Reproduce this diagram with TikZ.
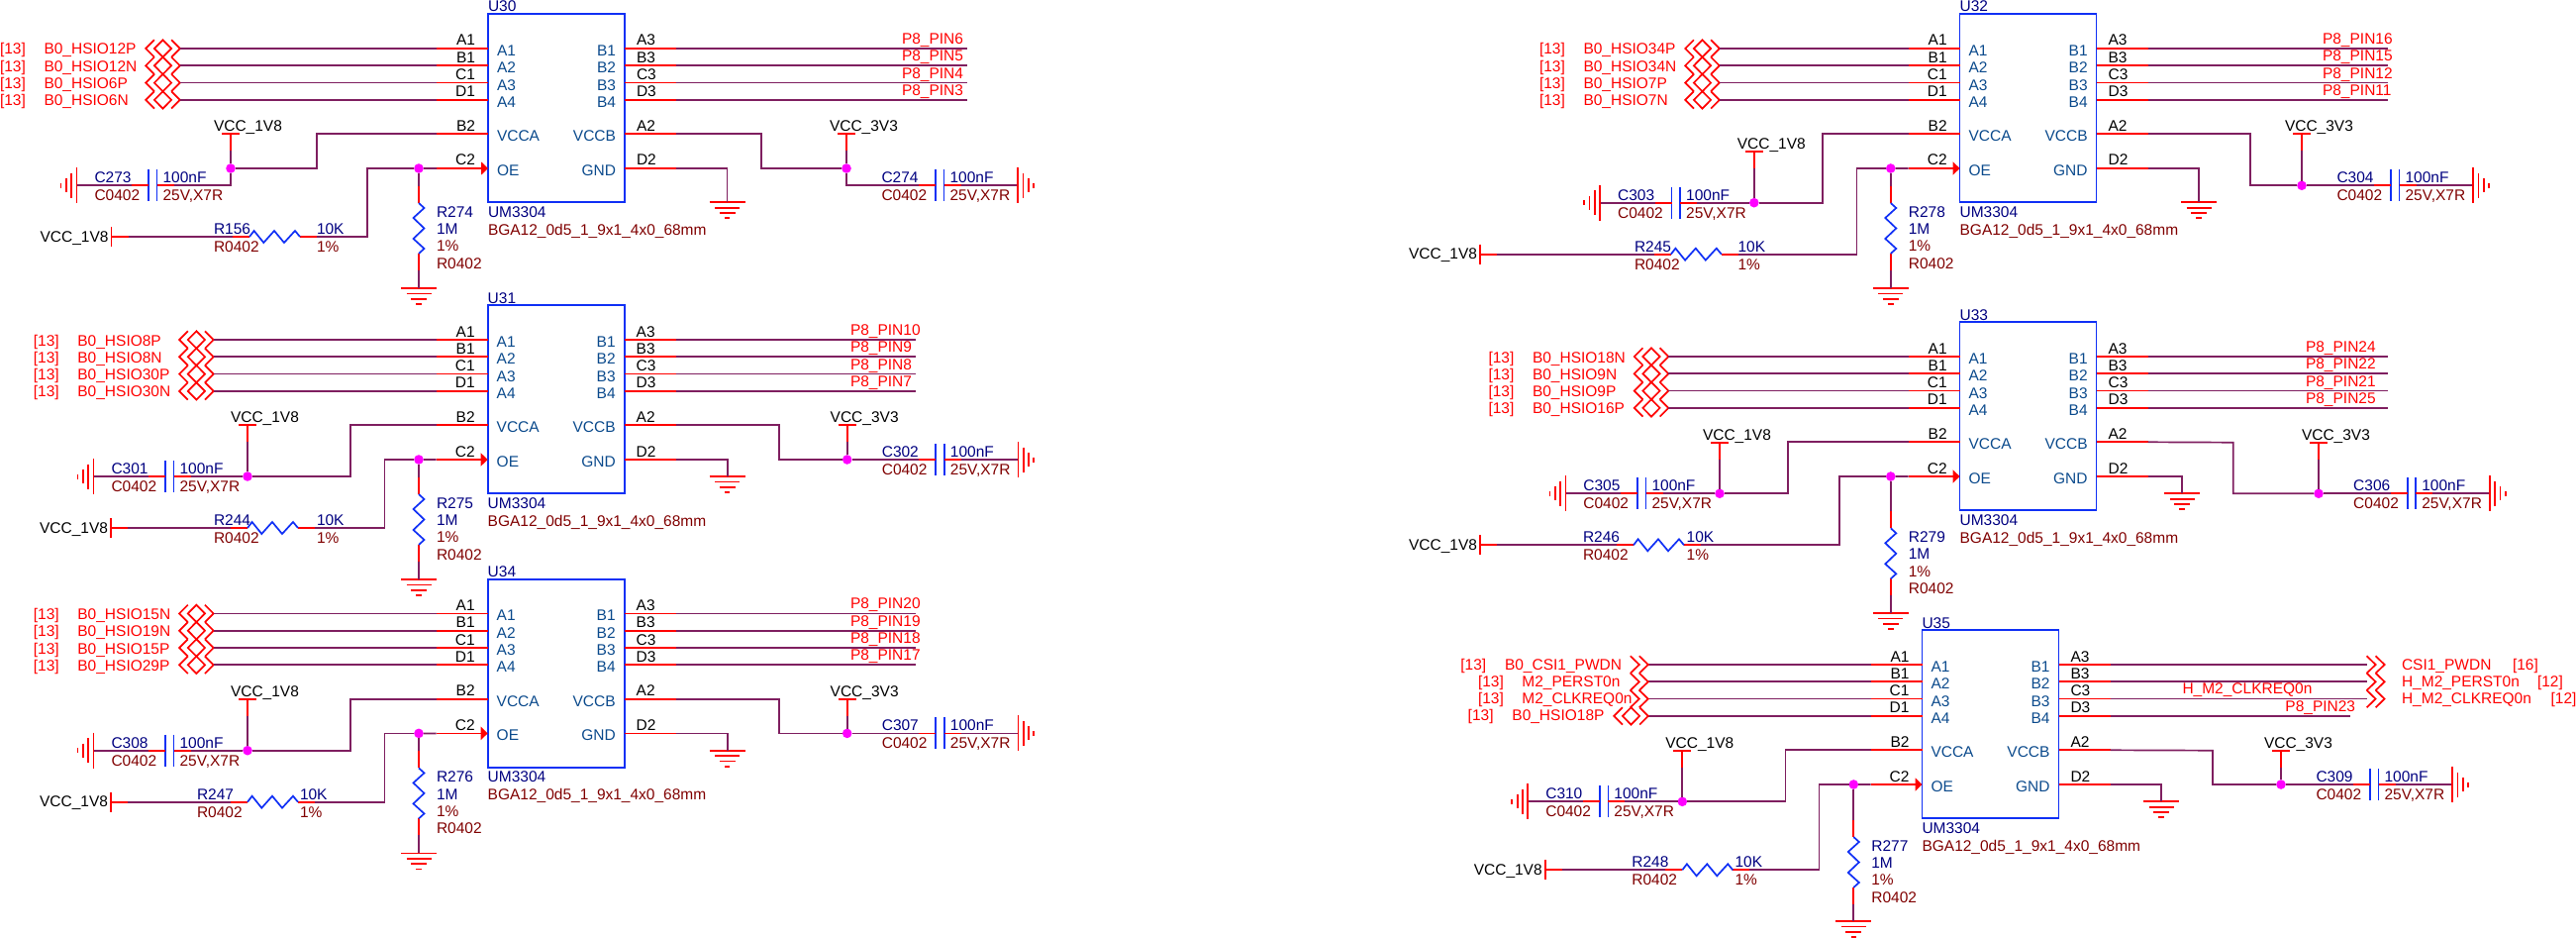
\documentclass[tikz,border=0pt]{standalone}
\usepackage{fontspec}
\setmainfont{Liberation Sans}
\usetikzlibrary{arrows.meta}

\definecolor{netc}{HTML}{7F1F60}
\definecolor{refc}{HTML}{000080}
\definecolor{valc}{HTML}{800000}
\definecolor{pinc}{HTML}{0B4A8C}
\definecolor{boxc}{HTML}{1030F5}
\definecolor{juncc}{HTML}{FF00FF}
\definecolor{pinred}{HTML}{FF0000}

\tikzset{
  net line/.style={draw=netc,line width=.85pt},
  pin line/.style={draw=pinred,line width=.85pt},
  blue line/.style={draw=boxc,line width=.85pt},
  chip box/.style={blue line,minimum width=69pt,minimum height=95pt},
  junction/.style={circle,fill=juncc,minimum size=4.8pt},
  ref text/.style={text=refc,anchor=base west},
  val text/.style={text=valc,anchor=base west},
  red text/.style={text=pinred,anchor=base west},
  pad text/.style={text=black},
  name text/.style={text=pinc},
  into/.pic={
    \draw[pin line] (-18,-8.7) -- (-9,0) -- (-18,8.7) (-9,-8.7) -- (0,0) -- (-9,8.7);
  },
  bidir/.pic={
    \draw[pin line] (-8.6,-8.7) -- (-17.3,0) -- (-8.6,8.7) (8.6,-8.7) -- (17.3,0) -- (8.6,8.7);
    \draw[pin line] (0,-8.7) -- (8.6,0) -- (0,8.7) -- (-8.6,0) -- cycle;
  }
}

% chip box with its pin stubs
\newcommand{\chip}[3]{
  \begin{scope}[shift={(#2,#3)}]
    \node[chip box] (#1) at (69,95) {};
    \node[ref text] (#1ref) at (0,-2.3) {#1};
    \node[ref text] (#1part) at (0,205) {UM3304};
    \node[val text] (#1foot) at (0,222.7) {BGA12\_0d5\_1\_9x1\_4x0\_68mm};
    \foreach \pn/\pd/\py in {A1/A1/34.7,A2/B1/52,A3/C1/69.3,A4/D1/86.6,VCCA/B2/121,OE/C2/155.7} {
      \coordinate (#1\pn) at (0,\py);
      \coordinate (#1\pn s) at (-52,\py);
      \node[pad text,anchor=base east] (#1\pn d) at (-13,\py-3) {\pd};
      \node[name text,anchor=base west] (#1\pn n) at (9,\py+7.5) {\pn};
    }
    \foreach \pn/\pd/\py in {B1/A3/34.7,B2/B3/52,B3/C3/69.3,B4/D3/86.6,VCCB/A2/121,GND/D2/155.7} {
      \coordinate (#1\pn) at (138,\py);
      \coordinate (#1\pn s) at (190,\py);
      \draw[pin line] (#1\pn) -- (#1\pn s);
      \node[pad text,anchor=base west] (#1\pn d) at (150,\py-3) {\pd};
      \node[name text,anchor=base east] (#1\pn n) at (129,\py+7.5) {\pn};
    }
    \foreach \pn in {A1,A2,A3,A4,VCCA}
      \draw[pin line] (#1\pn) -- (#1\pn s);
    \draw[pin line,-{Triangle[length=3.5pt,width=6.5pt]}] (#1OEs) -- (#1OE);
  \end{scope}
}
% left ports, row by row
\newcommand{\netsleft}[3]{
  \foreach \pn/\txt in {#3} {
    \pic at (#2,0 |- #1\pn) {bidir};
    \coordinate (#1\pn p) at (#2+17.3,0 |- #1\pn);
    \draw[net line] (#1\pn p) -- (#1\pn s);
    \node[red text,shift={(0,6)}] (#1\pn t) at (#2-164.5,0 |- #1\pn) {[13]};
    \node[red text,shift={(0,6)}] (#1\pn l) at (#2-120,0 |- #1\pn) {\txt};
  }
}
% right nets with label over the wire
\newcommand{\netsright}[4]{
  \foreach \pn/\txt in {#4} {
    \coordinate (#1\pn e) at (#2,0 |- #1\pn);
    \draw[net line] (#1\pn s) -- (#1\pn e);
    \node[red text,shift={(0,-4.5)}] (#1\pn l) at (#3,0 |- #1\pn) {\txt};
  }
}
% power stub going down from a bar
\newcommand{\vcc}[4]{
  \begin{scope}[shift={(#3,#4)}]
    \draw[pin line] (-9,0) -- (9,0) (0,0) -- (0,17);
    \coordinate (#1) at (0,17);
    \node[pad text,anchor=base west] (#1t) at (-17,-2.6) {#2};
  \end{scope}
}
% power stub going right from a bar
\newcommand{\vccbar}[3]{
  \begin{scope}[shift={(#2,#3)}]
    \draw[pin line] (0,-10) -- (0,10) (0,0) -- (17,0);
    \coordinate (#1) at (17,0);
    \node[pad text,anchor=base east] (#1t) at (-3,5) {VCC\_1V8};
  \end{scope}
}
\newcommand{\gnddown}[3]{
  \begin{scope}[shift={(#2,#3)}]
    \coordinate (#1) at (0,0);
    \draw[pin line] (-18,0) -- (18,0) (-12.5,5.4) -- (12.5,5.4) (-8,10.8) -- (8,10.8) (-2.7,16) -- (2.7,16);
  \end{scope}
}
% the two plates, ref and value
\newcommand{\capbody}[1]{
  \draw[blue line] (0,-16) -- (0,16) (8.6,-16) -- (8.6,16);
  \draw[pin line] (-17,0) -- (0,0) (8.6,0) -- (25.6,0);
  \coordinate (#1l) at (-17,0);
  \coordinate (#1r) at (25.6,0);
  \node[ref text] (#1n) at (-54.5,-2.6) {#1};
  \node[val text] (#1f) at (-54.5,15.4) {C0402};
  \node[ref text] (#1v) at (14.6,-2.6) {100nF};
  \node[val text] (#1w) at (14.6,15.4) {25V,X7R};
}
\newcommand{\capleft}[3]{
  \begin{scope}[shift={(#2,#3)}]
    \capbody{#1}
    \coordinate (#1g) at (-72.5,0);
    \draw[net line] (#1l) -- (#1g);
    \draw[pin line] (-72.5,-18) -- (-72.5,18) (-77.7,-12.5) -- (-77.7,12.5) (-83,-7) -- (-83,7) (-88.5,-2.5) -- (-88.5,2.5);
  \end{scope}
}
\newcommand{\capright}[3]{
  \begin{scope}[shift={(#2,#3)}]
    \capbody{#1}
    \coordinate (#1g) at (83.2,0);
    \draw[net line] (#1r) -- (#1g);
    \draw[pin line] (83.2,-18) -- (83.2,18) (88.4,-12.5) -- (88.4,12.5) (93.7,-7) -- (93.7,7) (99,-2.5) -- (99,2.5);
  \end{scope}
}
\newcommand{\reshor}[5]{
  \begin{scope}[shift={(#2,#3)}]
    \draw[pin line] (-17,0) -- (0,0) (51,0) -- (68,0);
    \draw[blue line] (0,0) -- (4.6,-6) -- (14.3,6) -- (25,-6) -- (35,6) -- (46,-6) -- (51,0);
    \coordinate (#1a) at (-17,0);
    \coordinate (#1b) at (68,0);
    \node[ref text] (#1n) at (#4-#2,-2.5) {#1};
    \node[val text] (#1f) at (#4-#2,15.3) {R0402};
    \node[ref text] (#1v) at (#5-#2,-2.5) {10K};
    \node[val text] (#1w) at (#5-#2,15.3) {1\%};
  \end{scope}
}
\newcommand{\resver}[3]{
  \begin{scope}[shift={(#2,#3)}]
    \draw[pin line] (0,-17) -- (0,0) (0,51) -- (0,68);
    \draw[blue line] (0,0) -- (5.5,5) -- (-5.5,15) -- (5.5,25.5) -- (-5.5,36) -- (5.5,46) -- (0,51);
    \coordinate (#1a) at (0,-17);
    \coordinate (#1b) at (0,68);
    \node[ref text] (#1n) at (18,14.3) {#1};
    \node[ref text] (#1v) at (18,31.6) {1M};
    \node[val text] (#1w) at (18,48.9) {1\%};
    \node[val text] (#1f) at (18,66.2) {R0402};
  \end{scope}
}
\newcommand{\junc}[3]{\node[junction] (#1) at (#2,#3) {};}

\begin{document}
\begin{tikzpicture}[x=.5pt,y=-.5pt,>=stealth,
    every node/.style={inner sep=0pt,outer sep=0pt,font=\fontsize{7.75}{9}\selectfont}]
  \useasboundingbox (0,0) rectangle (2602,947);

  % U30
  \chip{U30}{493}{14.3}
  \netsleft{U30}{164.5}{A1/B0\_HSIO12P,A2/B0\_HSIO12N,A3/B0\_HSIO6P,A4/B0\_HSIO6N}
  \netsright{U30}{977}{911}{B1/P8\_PIN6,B2/P8\_PIN5,B3/P8\_PIN4,B4/P8\_PIN3}
  \vcc{U30va}{VCC\_1V8}{233}{135.3}
  \junc{U30ja}{233}{170}
  \capleft{C273}{150}{187.3}
  \draw[net line] (U30va) -- (U30ja);
  \draw[net line] (U30ja) |- (C273r);
  \draw[net line] (U30ja) -- (320,170) |- (U30VCCAs);
  \vccbar{U30vb}{112.5}{239}
  \reshor{R156}{252}{239}{216}{320}
  \junc{U30jo}{423}{170}
  \draw[net line] (U30vb) -- (R156a);
  \draw[net line] (R156b) -- (371,239) |- (U30jo);
  \draw[net line] (U30jo) -- (U30OEs);
  \resver{R274}{423}{205}
  \gnddown{U30ga}{423}{291}
  \draw[net line] (U30jo) -- (R274a);
  \draw[net line] (R274b) -- (U30ga);
  \vcc{U30vc}{VCC\_3V3}{855}{135.3}
  \junc{U30jc}{855}{170}
  \capright{C274}{945}{187.3}
  \draw[net line] (U30VCCBs) -- (769,135.3) |- (U30jc);
  \draw[net line] (U30vc) -- (U30jc);
  \draw[net line] (U30jc) |- (C274l);
  \gnddown{U30gc}{734.6}{204.3}
  \draw[net line] (U30GNDs) -| (U30gc);

  % U31
  \chip{U31}{492.7}{308.3}
  \netsleft{U31}{198.4}{A1/B0\_HSIO8P,A2/B0\_HSIO8N,A3/B0\_HSIO30P,A4/B0\_HSIO30N}
  \netsright{U31}{925}{859}{B1/P8\_PIN10,B2/P8\_PIN9,B3/P8\_PIN8,B4/P8\_PIN7}
  \vcc{U31va}{VCC\_1V8}{250}{429.3}
  \junc{U31ja}{250}{481}
  \capleft{C301}{167}{481}
  \draw[net line] (U31va) -- (U31ja);
  \draw[net line] (C301r) -- (U31ja);
  \draw[net line] (U31ja) -- (354,481) |- (U31VCCAs);
  \vccbar{U31vb}{112}{533}
  \reshor{R244}{250}{533}{216}{320}
  \junc{U31jo}{423}{464}
  \draw[net line] (U31vb) -- (R244a);
  \draw[net line] (R244b) -- (388.6,533) |- (U31jo);
  \draw[net line] (U31jo) -- (U31OEs);
  \resver{R275}{423}{499}
  \gnddown{U31ga}{423}{585}
  \draw[net line] (U31jo) -- (R275a);
  \draw[net line] (R275b) -- (U31ga);
  \vcc{U31vc}{VCC\_3V3}{855.7}{429.3}
  \junc{U31jc}{855.7}{464}
  \capright{C302}{945.3}{464}
  \draw[net line] (U31VCCBs) -- (786.7,429.3) |- (U31jc);
  \draw[net line] (U31vc) -- (U31jc);
  \draw[net line] (U31jc) -- (C302l);
  \gnddown{U31gc}{734.7}{481}
  \draw[net line] (U31GNDs) -| (U31gc);

  % U34
  \chip{U34}{492.7}{584.7}
  \netsleft{U34}{198.4}{A1/B0\_HSIO15N,A2/B0\_HSIO19N,A3/B0\_HSIO15P,A4/B0\_HSIO29P}
  \netsright{U34}{925}{859}{B1/P8\_PIN20,B2/P8\_PIN19,B3/P8\_PIN18,B4/P8\_PIN17}
  \vcc{U34va}{VCC\_1V8}{250}{705.7}
  \junc{U34ja}{250}{757.7}
  \capleft{C308}{167}{757.7}
  \draw[net line] (U34va) -- (U34ja);
  \draw[net line] (C308r) -- (U34ja);
  \draw[net line] (U34ja) -- (354,757.7) |- (U34VCCAs);
  \vccbar{U34vb}{112}{809.7}
  \reshor{R247}{250}{809.7}{199}{303}
  \junc{U34jo}{423}{740.4}
  \draw[net line] (U34vb) -- (R247a);
  \draw[net line] (R247b) -- (388.6,809.7) |- (U34jo);
  \draw[net line] (U34jo) -- (U34OEs);
  \resver{R276}{423}{775.4}
  \gnddown{U34ga}{423}{861.4}
  \draw[net line] (U34jo) -- (R276a);
  \draw[net line] (R276b) -- (U34ga);
  \vcc{U34vc}{VCC\_3V3}{855.7}{705.7}
  \junc{U34jc}{855.7}{740.4}
  \capright{C307}{945.3}{740.4}
  \draw[net line] (U34VCCBs) -- (786.7,705.7) |- (U34jc);
  \draw[net line] (U34vc) -- (U34jc);
  \draw[net line] (U34jc) -- (C307l);
  \gnddown{U34gc}{734.7}{757.7}
  \draw[net line] (U34GNDs) -| (U34gc);

  % U32
  \chip{U32}{1979.6}{14.3}
  \netsleft{U32}{1719.5}{A1/B0\_HSIO34P,A2/B0\_HSIO34N,A3/B0\_HSIO7P,A4/B0\_HSIO7N}
  \netsright{U32}{2412}{2346}{B1/P8\_PIN16,B2/P8\_PIN15,B3/P8\_PIN12,B4/P8\_PIN11}
  \vcc{U32va}{VCC\_1V8}{1771.8}{153}
  \junc{U32ja}{1771.8}{204.7}
  \capleft{C303}{1688.6}{204.7}
  \draw[net line] (U32va) -- (U32ja);
  \draw[net line] (C303r) -- (U32ja);
  \draw[net line] (U32ja) -- (1840.8,204.7) |- (U32VCCAs);
  \vccbar{U32vb}{1495}{256.7}
  \reshor{R245}{1687.8}{256.7}{1651}{1755.5}
  \junc{U32jo}{1909.8}{170}
  \draw[net line] (U32vb) -- (R245a);
  \draw[net line] (R245b) -- (1875.5,256.7) |- (U32jo);
  \draw[net line] (U32jo) -- (U32OEs);
  \resver{R278}{1909.8}{205}
  \gnddown{U32ga}{1909.8}{291}
  \draw[net line] (U32jo) -- (R278a);
  \draw[net line] (R278b) -- (U32ga);
  \vcc{U32vc}{VCC\_3V3}{2325}{135.3}
  \junc{U32jc}{2325}{187.3}
  \capright{C304}{2415}{187.3}
  \draw[net line] (U32VCCBs) -- (2273,135.3) |- (U32jc);
  \draw[net line] (U32vc) -- (U32jc);
  \draw[net line] (U32jc) -- (C304l);
  \gnddown{U32gc}{2221}{204.3}
  \draw[net line] (U32GNDs) -| (U32gc);

  % U33
  \chip{U33}{1979.6}{325.3}
  \netsleft{U33}{1668}{A1/B0\_HSIO18N,A2/B0\_HSIO9N,A3/B0\_HSIO9P,A4/B0\_HSIO16P}
  \netsright{U33}{2412}{2329}{B1/P8\_PIN24,B2/P8\_PIN22,B3/P8\_PIN21,B4/P8\_PIN25}
  \vcc{U33va}{VCC\_1V8}{1737}{446.7}
  \junc{U33ja}{1737}{498.3}
  \capleft{C305}{1653.9}{498.3}
  \draw[net line] (U33va) -- (U33ja);
  \draw[net line] (C305r) -- (U33ja);
  \draw[net line] (U33ja) -- (1806,498.3) |- (U33VCCAs);
  \vccbar{U33vb}{1495}{550.3}
  \reshor{R246}{1650}{550.3}{1599}{1703.7}
  \junc{U33jo}{1909.8}{481}
  \draw[net line] (U33vb) -- (R246a);
  \draw[net line] (R246b) -- (1858,550.3) |- (U33jo);
  \draw[net line] (U33jo) -- (U33OEs);
  \resver{R279}{1909.8}{533.3}
  \gnddown{U33ga}{1909.8}{619}
  \draw[net line] (U33jo) -- (R279a);
  \draw[net line] (R279b) -- (U33ga);
  \vcc{U33vc}{VCC\_3V3}{2342}{446.7}
  \junc{U33jc}{2342}{498.3}
  \capright{C306}{2431.7}{498.3}
  \draw[net line] (U33VCCBs) -- (2255.7,446.7) |- (U33jc);
  \draw[net line] (U33vc) -- (U33jc);
  \draw[net line] (U33jc) -- (C306l);
  \gnddown{U33gc}{2204}{498.3}
  \draw[net line] (U33GNDs) -| (U33gc);

  % U35, its nets do not follow the others
  \chip{U35}{1941.5}{636.3}
  \foreach \pn/\tagx/\namex/\txt in {A1/1475.4/1520/B0\_CSI1\_PWDN,A2/1493/1537.4/M2\_PERST0n,A3/1493/1537.4/M2\_CLKREQ0n,A4/1482.7/1527.4/B0\_HSIO18P} {
    \coordinate (U35\pn p) at (1664.8,0 |- U35\pn);
    \draw[net line] (U35\pn p) -- (U35\pn s);
    \node[red text,shift={(0,5)}] (U35\pn t) at (\tagx,0 |- U35\pn) {[13]};
    \node[red text,shift={(0,5)}] (U35\pn l) at (\namex,0 |- U35\pn) {\txt};
  }
  \foreach \pn in {A1,A2,A3}
    \pic at (U35\pn p) {into};
  \pic at (1647.5,0 |- U35A4) {bidir};
  \foreach \pn/\txt/\tagtxt/\tagx in {B1/CSI1\_PWDN/[16]/2538,B2/H\_M2\_PERST0n/[12]/2563,B3/H\_M2\_CLKREQ0n/[12]/2576.6} {
    \coordinate (U35\pn e) at (2390.7,0 |- U35\pn);
    \draw[net line] (U35\pn s) -- (U35\pn e);
    \pic at (2408.6,0 |- U35\pn) {into};
    \node[red text,shift={(0,5)}] (U35\pn l) at (2426,0 |- U35\pn) {\txt};
    \node[red text,shift={(0,5)}] (U35\pn t) at (\tagx,0 |- U35\pn) {\tagtxt};
  }
  \coordinate (U35B4e) at (2374,0 |- U35B4);
  \draw[net line] (U35B4s) -- (U35B4e);
  \node[red text,shift={(0,-4.7)}] (U35B3m) at (2204.5,0 |- U35B3) {H\_M2\_CLKREQ0n};
  \node[red text,shift={(0,-4.7)}] (U35B4m) at (2308.4,0 |- U35B4) {P8\_PIN23};
  \vcc{U35va}{VCC\_1V8}{1699.3}{757.7}
  \junc{U35ja}{1699.3}{809.3}
  \capleft{C310}{1615.8}{809.3}
  \draw[net line] (U35va) -- (U35ja);
  \draw[net line] (C310r) -- (U35ja);
  \draw[net line] (U35ja) -- (1803.4,809.3) |- (U35VCCAs);
  \vccbar{U35vb}{1560.7}{878.3}
  \reshor{R248}{1699.3}{878.3}{1648.4}{1752.5}
  \junc{U35jo}{1872.3}{792}
  \draw[net line] (U35vb) -- (R248a);
  \draw[net line] (R248b) -- (1837.4,878.3) |- (U35jo);
  \draw[net line] (U35jo) -- (U35OEs);
  \resver{R277}{1872.3}{845}
  \gnddown{U35ga}{1872.3}{930}
  \draw[net line] (U35jo) -- (R277a);
  \draw[net line] (R277b) -- (U35ga);
  \vcc{U35vc}{VCC\_3V3}{2304}{757.7}
  \junc{U35jc}{2304}{792}
  \capright{C309}{2394}{792}
  \draw[net line] (U35VCCBs) -- (2235,757.7) |- (U35jc);
  \draw[net line] (U35vc) -- (U35jc);
  \draw[net line] (U35jc) -- (C309l);
  \gnddown{U35gc}{2183}{809.3}
  \draw[net line] (U35GNDs) -| (U35gc);
\end{tikzpicture}
\end{document}
